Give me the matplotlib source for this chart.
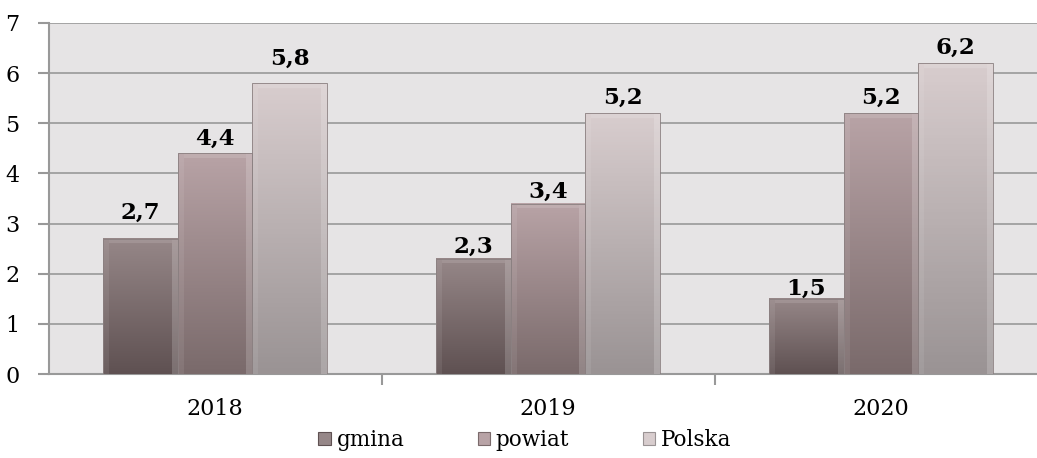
import numpy as np
import matplotlib
matplotlib.use("Agg")
import matplotlib.pyplot as plt
from matplotlib.colors import LinearSegmentedColormap
from matplotlib.patches import Rectangle, Patch

years = ["2018", "2019", "2020"]
series = ["gmina", "powiat", "Polska"]
gmina = [2.7, 2.3, 1.5]
powiat = [4.4, 3.4, 5.2]
polska = [5.8, 5.2, 6.2]
values = [gmina, powiat, polska]

# gap (in points) between bar top and label baseline, per series / year
label_gap = [[14, 4, 3],
             [6, 4, 7],
             [13, 7, 7]]

# top colour, bottom colour for each series gradient
grad_colors = [("#968788", "#5f5152"),
               ("#b8a3a6", "#7a6a6b"),
               ("#d8cdce", "#9a9394")]

plt.rcParams["font.family"] = ["DejaVu Serif"]

fig = plt.figure(figsize=(10.37, 4.58), dpi=100)
ax = fig.add_axes([0.0468, 0.1834, 0.9532, 0.7664])
ax.set_facecolor("#e6e4e5")

x = np.arange(len(years))
width = 0.224
grad = np.linspace(0, 1, 100).reshape(-1, 1)
for i, (vals, name) in enumerate(zip(values, series)):
    pos = x + (i - 1) * width
    bars = ax.bar(pos, vals, width, color=grad_colors[i][1],
                  edgecolor="none", zorder=2)
    cmap = LinearSegmentedColormap.from_list(name, [grad_colors[i][1], grad_colors[i][0]])
    for j, (b, v) in enumerate(zip(bars, vals)):
        x0, w, h = b.get_x(), b.get_width(), b.get_height()
        ax.imshow(grad, cmap=cmap, origin="lower", aspect="auto",
                  extent=(x0, x0 + w, 0, h), zorder=3)
        # bevel edges
        bw = w * 0.08
        bh = 0.09
        ax.add_patch(Rectangle((x0, 0), bw, h, facecolor="white",
                               alpha=0.08, edgecolor="none", zorder=4))
        ax.add_patch(Rectangle((x0 + w - bw, 0), bw, h, facecolor="white",
                               alpha=0.18, edgecolor="none", zorder=4))
        ax.add_patch(Rectangle((x0 + bw, h - bh), w - 2 * bw, bh,
                               facecolor="white", alpha=0.12,
                               edgecolor="none", zorder=4))
        ax.add_patch(Rectangle((x0, 0), w, h, fill=False,
                               edgecolor="#8a7f80", lw=0.6, zorder=4))
        ax.annotate(f"{v}".replace(".", ","), (x0 + w / 2, h),
                    xytext=(0, label_gap[i][j]), textcoords="offset points",
                    ha="center", va="baseline", fontsize=16.5,
                    fontweight="bold", zorder=5)

ax.set_xlim(-0.5, 2.468)
ax.set_ylim(0, 7)
ax.set_yticks(range(0, 8))
ax.yaxis.grid(True, color="#999999", lw=1.2, zorder=1)
ax.set_axisbelow(True)

ax.set_xticks(x)
ax.set_xticklabels(years)
ax.set_xticks([0.5, 1.5], minor=True)
ax.tick_params(axis="x", which="major", length=0, pad=17, labelsize=16)
ax.tick_params(axis="x", which="minor", length=8, width=1.5, color="#999999")
ax.tick_params(axis="y", length=8, width=1.5, color="#999999", labelsize=16, pad=13)

for s in ["top", "right"]:
    ax.spines[s].set_visible(False)
ax.spines["left"].set_color("#999999")
ax.spines["bottom"].set_color("#999999")
ax.spines["left"].set_linewidth(1.5)
ax.spines["bottom"].set_linewidth(1.5)

handles = [Patch(facecolor=c[0], edgecolor=c[1], lw=0.8) for c in grad_colors]
leg = fig.legend(handles, series, loc="center", bbox_to_anchor=(0.506, 0.039),
                 ncol=3, frameon=False, fontsize=15.5, handlelength=0.6,
                 handleheight=0.6, handletextpad=0.25, columnspacing=3.4,
                 borderpad=0, borderaxespad=0)

fig.savefig("out.png", dpi=100)
